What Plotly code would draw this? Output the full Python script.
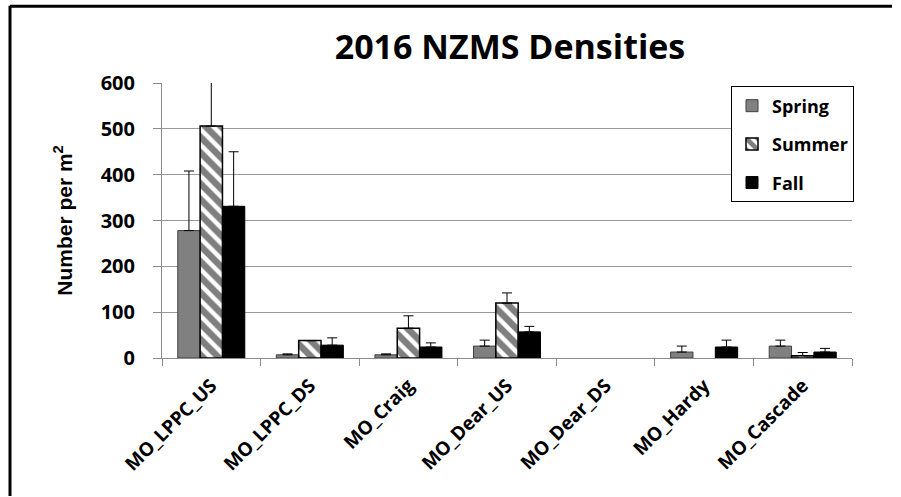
import plotly.graph_objects as go

sites = ["MO_LPPC_US", "MO_LPPC_DS", "MO_Craig", "MO_Dear_US", "MO_Dear_DS", "MO_Hardy", "MO_Cascade"]
spring = [278, 7, 7, 26, None, 13, 26]
spring_err = [130, 2, 2, 13, None, 13, 13]
summer = [506, 38, 65, 120, None, None, 5]
summer_err = [115, None, 27, 22, None, None, 7]
fall = [331, 28, 24, 57, None, 24, 13]
fall_err = [119, 16, 9, 12, None, 15, 8]
zeros = [0] * len(sites)

# pixel layout helpers (plot area)
L, R, T, B = 162, 852, 82.5, 358.5
W, H = 901, 497
def px(x):
    return (x - L) / (R - L)
def py(y):
    return (B - y) / (B - T)

def outline(vals, w):
    return [w if v else 0 for v in vals]

fig = go.Figure()
err_style = dict(type="data", symmetric=False, color="black", thickness=1, width=5)

fig.add_trace(go.Bar(
    name="Spring", x=sites, y=spring, legendgroup="a",
    marker=dict(color="#808080", line=dict(color="#404040", width=outline(spring, 1))),
    error_y=dict(array=spring_err, arrayminus=zeros, **err_style),
))
fig.add_trace(go.Bar(
    name="Summer", x=sites, y=summer, legendgroup="b",
    marker=dict(color="white", line=dict(color="black", width=outline(summer, 1.5)),
                pattern=dict(shape="\\", fgcolor="black", bgcolor="white",
                             size=11, solidity=0.6)),
    error_y=dict(array=summer_err, arrayminus=zeros, **err_style),
))
fig.add_trace(go.Bar(
    name="Fall", x=sites, y=fall, legendgroup="c",
    marker=dict(color="black", line=dict(color="black", width=outline(fall, 1))),
    error_y=dict(array=fall_err, arrayminus=zeros, **err_style),
))

fig.update_layout(
    width=W, height=H,
    margin=dict(l=L, r=W - R, t=T, b=H - B, autoexpand=False),
    paper_bgcolor="white", plot_bgcolor="white",
    barmode="group", bargap=0.32, bargroupgap=0,
    title=dict(text="2016 NZMS Densities", x=px(510), xref="paper", xanchor="center",
               y=1 - 47 / H, yanchor="middle",
               font=dict(family="Open Sans", size=34, color="black", weight="bold")),
    legend=dict(x=px(731), y=py(86), xanchor="left", yanchor="top",
                bordercolor="black", borderwidth=1, bgcolor="white",
                font=dict(family="Open Sans", size=18, color="black", weight="bold"),
                tracegroupgap=12, itemwidth=30),
    showlegend=True,
)
fig.update_xaxes(
    automargin=False,
    showline=True, linecolor="#8c8c8c", linewidth=1,
    ticks="outside", tickson="boundaries", ticklen=7, tickcolor="#8c8c8c",
    tickangle=-45, ticklabelstandoff=8,
    tickfont=dict(family="Open Sans", size=19, color="black", weight="bold"),
    showgrid=False,
)
fig.update_yaxes(
    automargin=False,
    range=[0, 600], dtick=100, showline=True, linecolor="#8c8c8c", linewidth=1,
    ticks="outside", ticklen=8, tickcolor="#8c8c8c",
    showgrid=True, gridcolor="#9a9a9a", gridwidth=1, zeroline=False,
    ticklabelstandoff=14,
    tickfont=dict(family="Open Sans", size=20, color="black", weight="bold"),
    title=dict(text="Number per m<sup>2</sup>", standoff=22,
               font=dict(family="Liberation Sans", size=21, color="black", weight="bold")),
)

# outer frame
fig.add_shape(type="line", xref="paper", yref="paper", x0=px(10), x1=px(892), y0=py(5.5), y1=py(5.5),
              line=dict(color="black", width=3))
fig.add_shape(type="line", xref="paper", yref="paper", x0=px(10), x1=px(10), y0=py(5), y1=py(497),
              line=dict(color="black", width=3))

fig.write_html("out.html", config={"displayModeBar": False},
               post_script="document.body.style.margin='0';document.body.style.overflow='hidden';")
